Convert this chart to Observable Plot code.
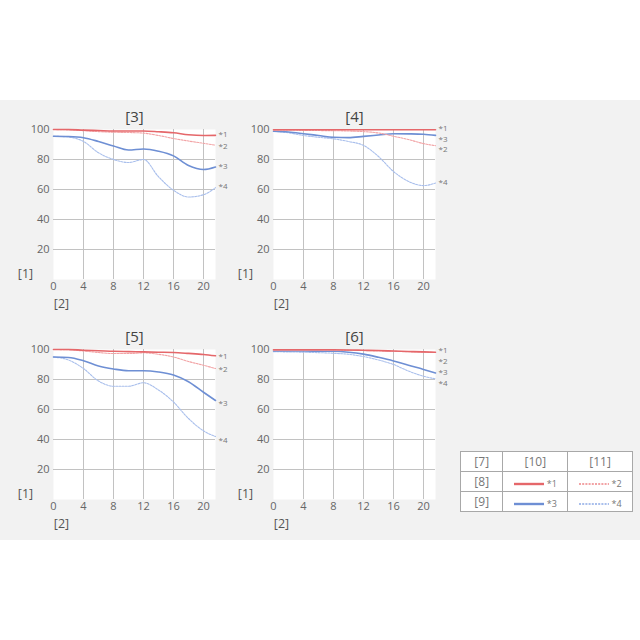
<!DOCTYPE html>
<html>
<head>
<meta charset="utf-8">
<script src="https://cdn.jsdelivr.net/npm/d3@7"></script>
<script src="https://cdn.jsdelivr.net/npm/@observablehq/plot@0.6"></script>
<style>
  html, body { margin: 0; padding: 0; background: #fff; }
  #page { position: relative; width: 640px; height: 640px; overflow: hidden; font-family: "Open Sans", "Noto Sans", sans-serif; }
  #band { position: absolute; left: 0; top: 100px; width: 640px; height: 440px; background: #f2f2f2; }
  .panel { position: absolute; }
  #legend { position: absolute; left: 460px; top: 451px; width: 173px; height: 59px; border-collapse: collapse; background: #fff; font-size: 12px; color: #777; }
  #legend td { border: 1px solid #a8a8a8; text-align: center; padding: 0; height: 19px; }
  #legend td.c0 { width: 43px; }
  #legend td.c1, #legend td.c2 { width: 65px; }
  #legend .sw { display: inline-flex; align-items: center; gap: 3px; font-size: 9px; color: #777; }
</style>
</head>
<body>
<div id="page">
  <div id="band"></div>
</div>
<script>
// ---- data ----
const xs = [0, 2, 4, 6, 8, 10, 12, 14, 16, 18, 20, 21.6];
const xTicks = [0, 4, 8, 12, 16, 20];
const yTicks = [20, 40, 60, 80, 100];
const seriesNames = ["*1", "*2", "*3", "*4"];
const panelTitles = ["[3]", "[4]", "[5]", "[6]"];
const axisYLabel = "[1]";
const axisXLabel = "[2]";
const legendHeaders = ["[7]", "[10]", "[11]"];
const legendRows = ["[8]", "[9]"];

// panel [3]
const p3s1 = [100, 100, 99.6, 99.3, 99, 99, 99, 98.5, 97.8, 96.5, 96, 96.1];
const p3s2 = [100, 99.7, 99.2, 98.6, 98.2, 98, 97.6, 96, 94, 92.3, 90.8, 89.5];
const p3s3 = [95.5, 95.3, 94.5, 92, 89, 86.3, 87, 85.5, 82.4, 76, 73.3, 75];
const p3s4 = [95.5, 95, 92, 84.5, 80, 78, 80, 68.5, 59.5, 55, 56.5, 61.2];
const p3lab = [96.7, 89, 75.5, 62];

// panel [4]
const p4s1 = [99.8, 99.8, 99.8, 99.8, 99.8, 99.8, 99.8, 99.8, 99.8, 99.8, 99.8, 99.8];
const p4s2 = [99.5, 99.5, 99.4, 99.3, 99.2, 99, 98.6, 97.7, 95.5, 93.3, 90.6, 89.2];
const p4s3 = [98.8, 98.3, 97.2, 96, 94.8, 94.6, 95.4, 96.3, 97.2, 97.1, 96.8, 96.1];
const p4s4 = [98.8, 97.8, 96, 94.8, 93.8, 92, 89.4, 82, 72, 65.4, 62.6, 64.3];
const p4lab = [100.4, 86.6, 93.5, 64.9];

// panel [5]
const p5s1 = [100, 100, 99.5, 99.2, 98.8, 98.6, 98.4, 98.2, 98, 97.4, 96.7, 95.8];
const p5s2 = [100, 99.8, 99, 98, 97.3, 97.3, 97.8, 96.8, 95, 92, 89.5, 87.3];
const p5s3 = [95, 94.7, 92.5, 89, 87, 85.8, 85.8, 85, 83, 78.5, 71.5, 66];
const p5s4 = [95, 93, 87.3, 79, 75.5, 75.5, 77.8, 73, 65, 54, 45.8, 42];
const p5lab = [95.6, 86.7, 64, 39.1];

// panel [6]
const p6s1 = [99.8, 99.8, 99.8, 99.8, 99.8, 99.7, 99.5, 99.3, 99, 98.7, 98.4, 98.2];
const p6s2 = [99.5, 99.5, 99.5, 99.5, 99.5, 99.4, 99.3, 99, 98.8, 98.5, 98.2, 98];
const p6s3 = [99, 99, 99, 98.9, 98.8, 98.2, 96.9, 94.8, 92.4, 89.5, 86.7, 84.3];
const p6s4 = [98.5, 98.4, 98.2, 97.9, 97.5, 96.8, 95.3, 93, 90, 85.6, 82.2, 80.4];
const p6lab = [99.2, 92.2, 85, 77.6];

// ---- styles ----
const styles = [
  {stroke: "#e5676a", strokeWidth: 1.6, strokeDasharray: null},
  {stroke: "#f2a3a5", strokeWidth: 1.1, strokeDasharray: "2,1.2"},
  {stroke: "#6e8fd4", strokeWidth: 1.6, strokeDasharray: null},
  {stroke: "#a9bfec", strokeWidth: 1.1, strokeDasharray: "2,1.2"}
];
const font = '"Open Sans", "Noto Sans", sans-serif';

function panel(title, series, labelY, left, top) {
  const data = series.map(vals => vals.map((v, j) => ({x: xs[j], y: v})));
  const labels = seriesNames.map((s, i) => ({s, y: labelY[i], x: xs[xs.length - 1]}));
  const lineMarks = [3, 2, 1, 0].map(i => Plot.line(data[i], {
    x: "x", y: "y", curve: "monotone-x",
    stroke: styles[i].stroke, strokeWidth: styles[i].strokeWidth,
    strokeDasharray: styles[i].strokeDasharray
  }));
  const p = Plot.plot({
    width: 240, height: 220,
    marginLeft: 53, marginTop: 29, marginRight: 25, marginBottom: 41,
    x: {domain: [0, 21.6]},
    y: {domain: [0, 100]},
    style: {fontFamily: font, background: "transparent", overflow: "visible"},
    marks: [
      Plot.frame({fill: "white", stroke: null}),
      Plot.gridX(xTicks.slice(1), {stroke: "#c2c2c2", strokeOpacity: 1}),
      Plot.gridY(yTicks.slice(0, 4), {stroke: "#c2c2c2", strokeOpacity: 1}),
      Plot.axisX(xTicks, {tickSize: 0, tickPadding: 3, fontSize: 11, fill: "#666", label: null}),
      Plot.axisY(yTicks, {tickSize: 0, tickPadding: 4, fontSize: 11, fill: "#666", label: null}),
      ...lineMarks,
      Plot.text(labels, {x: "x", y: "y", text: "s", dx: 3, textAnchor: "start", fontSize: 8, fill: "#777"}),
      Plot.text([title], {frameAnchor: "top", dy: -12, lineAnchor: "middle", fontSize: 15, fill: "#444", letterSpacing: "1.5px"}),
      Plot.text([axisYLabel], {frameAnchor: "bottom-left", dx: -28, dy: -6, textAnchor: "middle", lineAnchor: "middle", fontSize: 12.5, fill: "#555", letterSpacing: "1px"}),
      Plot.text([axisXLabel], {frameAnchor: "bottom-left", dx: 8, dy: 24, textAnchor: "middle", lineAnchor: "middle", fontSize: 12.5, fill: "#555", letterSpacing: "1px"})
    ]
  });
  p.classList.add("panel");
  p.style.left = left + "px";
  p.style.top = top + "px";
  document.getElementById("page").appendChild(p);
}

panel(panelTitles[0], [p3s1, p3s2, p3s3, p3s4], p3lab, 0, 100);
panel(panelTitles[1], [p4s1, p4s2, p4s3, p4s4], p4lab, 220, 100);
panel(panelTitles[2], [p5s1, p5s2, p5s3, p5s4], p5lab, 0, 320);
panel(panelTitles[3], [p6s1, p6s2, p6s3, p6s4], p6lab, 220, 320);

// ---- legend table ----
function swatch(i) {
  const st = styles[i];
  return `<span class="sw"><svg width="30" height="4"><line x1="0" y1="2" x2="30" y2="2" stroke="${st.stroke}" stroke-width="${st.strokeWidth + 0.8}" ${st.strokeDasharray ? `stroke-dasharray="${st.strokeDasharray}"` : ""}/></svg>${seriesNames[i]}</span>`;
}
const table = document.createElement("table");
table.id = "legend";
table.innerHTML =
  `<tr><td class="c0">${legendHeaders[0]}</td><td class="c1">${legendHeaders[1]}</td><td class="c2">${legendHeaders[2]}</td></tr>` +
  `<tr><td class="c0">${legendRows[0]}</td><td class="c1">${swatch(0)}</td><td class="c2">${swatch(1)}</td></tr>` +
  `<tr><td class="c0">${legendRows[1]}</td><td class="c1">${swatch(2)}</td><td class="c2">${swatch(3)}</td></tr>`;
document.getElementById("page").appendChild(table);
</script>
</body>
</html>
